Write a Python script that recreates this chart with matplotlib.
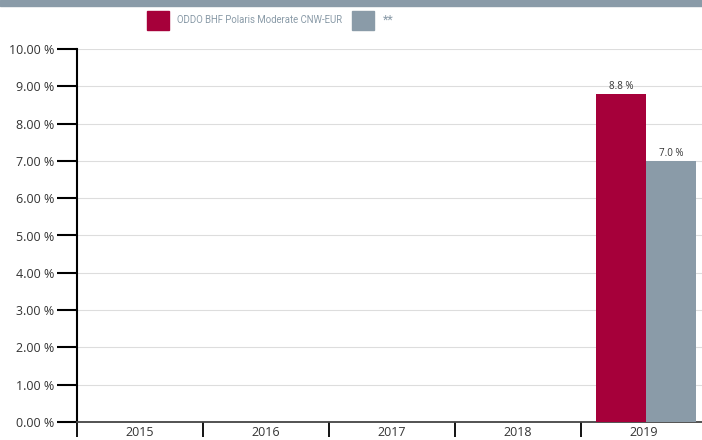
import numpy as np
import matplotlib.pyplot as plt
from matplotlib.patches import Rectangle

# Dados do gráfico
anos = ['2015', '2016', '2017', '2018', '2019']
fundo = [np.nan, np.nan, np.nan, np.nan, 8.8]
indice = [np.nan, np.nan, np.nan, np.nan, 7.0]
nome_fundo = 'ODDO BHF Polaris Moderate CNW-EUR'
nome_indice = '**'

cor_fundo = '#A6003A'
cor_indice = '#8A9BA8'

plt.rcParams['font.family'] = ['Open Sans', 'DejaVu Sans']

fig = plt.figure(figsize=(7.02, 4.40), dpi=100)
W, H = 702, 440

# faixa cinza no topo
fig.patches.append(Rectangle((0, 1 - 6 / H), 1, 6 / H, transform=fig.transFigure,
                             color=cor_indice, zorder=0))

ax = fig.add_axes([77 / W, 18 / H, 625 / W, (422 - 49) / H])
x = np.arange(len(anos))
larg = 50 / 126
desl = 0.015
ax.bar(x + desl - larg / 2, fundo, width=larg, color=cor_fundo, zorder=3)
ax.bar(x + desl + larg / 2, indice, width=larg, color=cor_indice, zorder=3)

for i in range(len(anos)):
    if not np.isnan(fundo[i]):
        ax.text(x[i] + desl - larg / 2, fundo[i] + 0.05, f'{fundo[i]:.1f} %',
                ha='center', va='bottom', fontsize=7, color='#333333')
    if not np.isnan(indice[i]):
        ax.text(x[i] + desl + larg / 2, indice[i] + 0.05, f'{indice[i]:.1f} %',
                ha='center', va='bottom', fontsize=7, color='#333333')

ax.set_yticks(np.arange(0, 11, 1))
ax.set_yticklabels([f'{v:.2f} %' for v in range(11)], fontsize=9, color='#333333')
ax.tick_params(axis='y', length=14.5, width=1.5, color='black', pad=2)
ax.grid(axis='y', color='#DDDDDD', linewidth=0.8, zorder=0)

ax.set_xticks(x)
ax.set_xticklabels(anos, fontsize=9, color='#333333')
ax.set_xticks(np.arange(-0.5, len(anos)), minor=True)
ax.tick_params(axis='x', which='major', length=0, pad=3)
ax.tick_params(axis='x', which='minor', length=11, width=1.3, color='black')

# limites depois dos ticks (set_xticks expande os limites)
ax.set_xlim(-0.5, -0.5 + 625 / 126)
ax.set_ylim(0, 10)

for lado in ['top', 'right']:
    ax.spines[lado].set_visible(False)
ax.spines['left'].set_linewidth(1.5)
ax.spines['left'].set_color('black')
ax.spines['bottom'].set_linewidth(1.3)
ax.spines['bottom'].set_color('#444444')

# legenda
fonte_leg = ['Roboto', 'DejaVu Sans']
fig.patches.append(Rectangle((147 / W, 1 - 30 / H), 22 / W, 19 / H,
                             transform=fig.transFigure, color=cor_fundo))
t = fig.text(177 / W, 1 - 20 / H, nome_fundo, fontsize=10, color='#8A9BA8', va='center',
             family=fonte_leg)
# ajustar tamanho para caber em ~166 px
r = fig.canvas.get_renderer()
larg_txt = t.get_window_extent(renderer=r).width
t.set_fontsize(10 * 166 / larg_txt)
fig.patches.append(Rectangle((352 / W, 1 - 30 / H), 22 / W, 19 / H,
                             transform=fig.transFigure, color=cor_indice))
fig.text(383 / W, 1 - 20 / H, nome_indice, fontsize=9, color='#8A9BA8', va='center',
         family=fonte_leg)

fig.savefig('out.png', dpi=100)
